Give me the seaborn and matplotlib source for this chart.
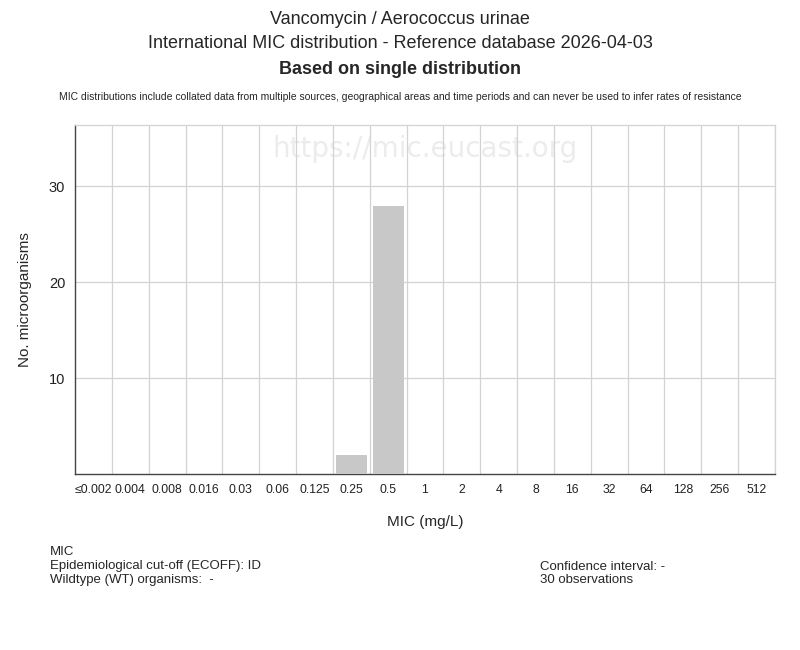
import matplotlib
matplotlib.use("Agg")
import matplotlib.pyplot as plt
import seaborn as sns
import pandas as pd

mic_labels = ["≤0.002", "0.004", "0.008", "0.016", "0.03", "0.06", "0.125", "0.25", "0.5",
              "1", "2", "4", "8", "16", "32", "64", "128", "256", "512"]
counts = [0, 0, 0, 0, 0, 0, 0, 2, 28, 0, 0, 0, 0, 0, 0, 0, 0, 0, 0]
y_ticks = [10, 20, 30]

sns.set_theme(style="white")
plt.rcParams['font.family'] = ['Liberation Sans', 'DejaVu Sans']

df = pd.DataFrame({"mic": mic_labels, "n": counts})

fig = plt.figure(figsize=(8, 6.5), dpi=100)
ax = fig.add_axes([75/800, 1 - 474/650, 700/800, (474-125)/650])

sns.barplot(data=df, x="mic", y="n", order=mic_labels, color="#c8c8c8",
            saturation=1, width=0.84, ax=ax, zorder=3, linewidth=0, edgecolor="none")

ax.set_xlim(-0.5, len(mic_labels) - 0.5)
ax.set_ylim(0, 36.4)
ax.set_yticks(y_ticks)
for i in range(len(mic_labels)):
    ax.axvline(i + 0.5, color="#d3d3d3", lw=0.9, zorder=1)
for t in y_ticks:
    ax.axhline(t, color="#d3d3d3", lw=0.9, zorder=1)

for s in ["top", "right"]:
    ax.spines[s].set_color("#d3d3d3")
    ax.spines[s].set_linewidth(0.9)
for s in ["left", "bottom"]:
    ax.spines[s].set_color("#444444")
    ax.spines[s].set_linewidth(1.0)

ax.tick_params(axis="both", length=0, colors="#222222", pad=7)
ax.tick_params(axis="x", labelsize=8.8)
ax.tick_params(axis="y", labelsize=10.5)
ax.set_xlabel("MIC (mg/L)", fontsize=11, labelpad=14)
ax.set_ylabel("No. microorganisms", fontsize=11, labelpad=12)

ax.text(0.5, 0.93, "https://mic.eucast.org", transform=ax.transAxes, ha="center", va="center",
        fontsize=20, color="#ececec", zorder=0, family=['DejaVu Sans'])

fig.text(0.5, 1 - 19/650, "Vancomycin / Aerococcus urinae", ha="center", va="center", fontsize=13)
fig.text(0.5, 1 - 44/650, "International MIC distribution - Reference database 2026-04-03",
         ha="center", va="center", fontsize=13)
fig.text(0.5, 1 - 69/650, "Based on single distribution", ha="center", va="center",
         fontsize=13, fontweight="bold")
fig.text(0.5, 1 - 97/650, "MIC distributions include collated data from multiple sources, geographical areas and time periods and can never be used to infer rates of resistance",
         ha="center", va="center", fontsize=7.5)

fig.text(50/800, 1 - 552/650, "MIC", ha="left", va="center", fontsize=9.5)
fig.text(50/800, 1 - 566/650, "Epidemiological cut-off (ECOFF): ID", ha="left", va="center", fontsize=9.5)
fig.text(50/800, 1 - 580/650, "Wildtype (WT) organisms:  -", ha="left", va="center", fontsize=9.5)
fig.text(540/800, 1 - 567/650, "Confidence interval: -", ha="left", va="center", fontsize=9.5)
fig.text(540/800, 1 - 580/650, "30 observations", ha="left", va="center", fontsize=9.5)

fig.savefig("out.png", dpi=100, facecolor="white")
